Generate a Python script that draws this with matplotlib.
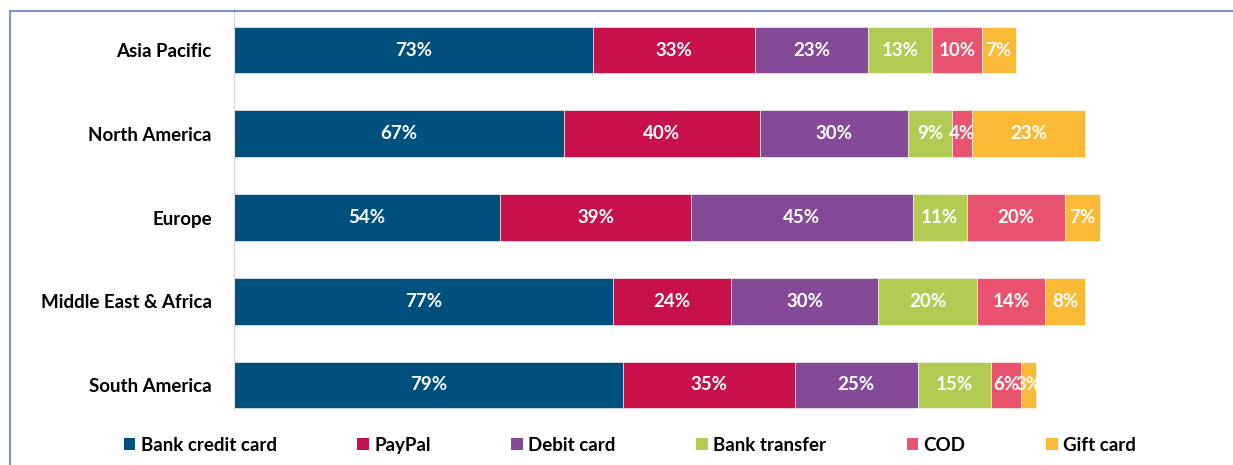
import numpy as np
import matplotlib.pyplot as plt
from matplotlib.patches import Rectangle

regions = ['Asia Pacific', 'North America', 'Europe', 'Middle East & Africa', 'South America']
methods = ['Bank credit card', 'PayPal', 'Debit card', 'Bank transfer', 'COD', 'Gift card']

bank_credit_card = [73, 67, 54, 77, 79]
paypal = [33, 40, 39, 24, 35]
debit_card = [23, 30, 45, 30, 25]
bank_transfer = [13, 9, 11, 20, 15]
cod = [10, 4, 20, 14, 6]
gift_card = [7, 23, 7, 8, 3]

series = [bank_credit_card, paypal, debit_card, bank_transfer, cod, gift_card]
colors = ['#00507F', '#C8104B', '#844A97', '#B2CB53', '#E9536F', '#FBBA35']

plt.rcParams['font.family'] = ['Lato', 'DejaVu Sans']

W, H = 1233, 465
fig = plt.figure(figsize=(W / 100, H / 100), dpi=100)

# outer frame, only top and left edges fall inside the canvas
fig.patches.append(Rectangle((10 / W, -0.1), 1.2, 1 - 11 / H + 0.1,
                             transform=fig.transFigure, fill=False,
                             edgecolor='#5B7FC7', linewidth=1.2))

ax = fig.add_axes([234 / W, 1 - 410 / H, (W - 234) / W, 402 / H])

y = np.arange(len(regions))
left = np.zeros(len(regions))
for vals, name, c in zip(series, methods, colors):
    bars = ax.barh(y, vals, left=left, height=0.56, color=c, label=name,
                   edgecolor='white', linewidth=0.4)
    ax.bar_label(bars, labels=[f'{v}%' for v in vals], label_type='center',
                 color='white', fontsize=13.5, fontweight='bold')
    left += np.array(vals)

px = 4.918
ax.set_xlim(0, (W - 234) / px)
ax.set_ylim((410 - 50) / 83.75, (8 - 50) / 83.75)
ax.set_yticks(y)
ax.set_yticklabels(regions, fontsize=13.5, fontweight='bold')
ax.tick_params(axis='y', length=0, pad=16)
ax.set_xticks([])
for s in ['top', 'right', 'bottom']:
    ax.spines[s].set_visible(False)
ax.spines['left'].set_color('#D9D9D9')

handles, labels = ax.get_legend_handles_labels()
leg = fig.legend(handles, labels, loc='center', bbox_to_anchor=(630 / W, 1 - 445 / H),
                 ncol=6, frameon=False, fontsize=13.5, handlelength=0.6,
                 handleheight=0.6, handletextpad=0.3, columnspacing=4.3)
for t in leg.get_texts():
    t.set_fontweight('bold')
for h in leg.legend_handles:
    h.set_edgecolor('none')

fig.savefig('out.png', dpi=100)
